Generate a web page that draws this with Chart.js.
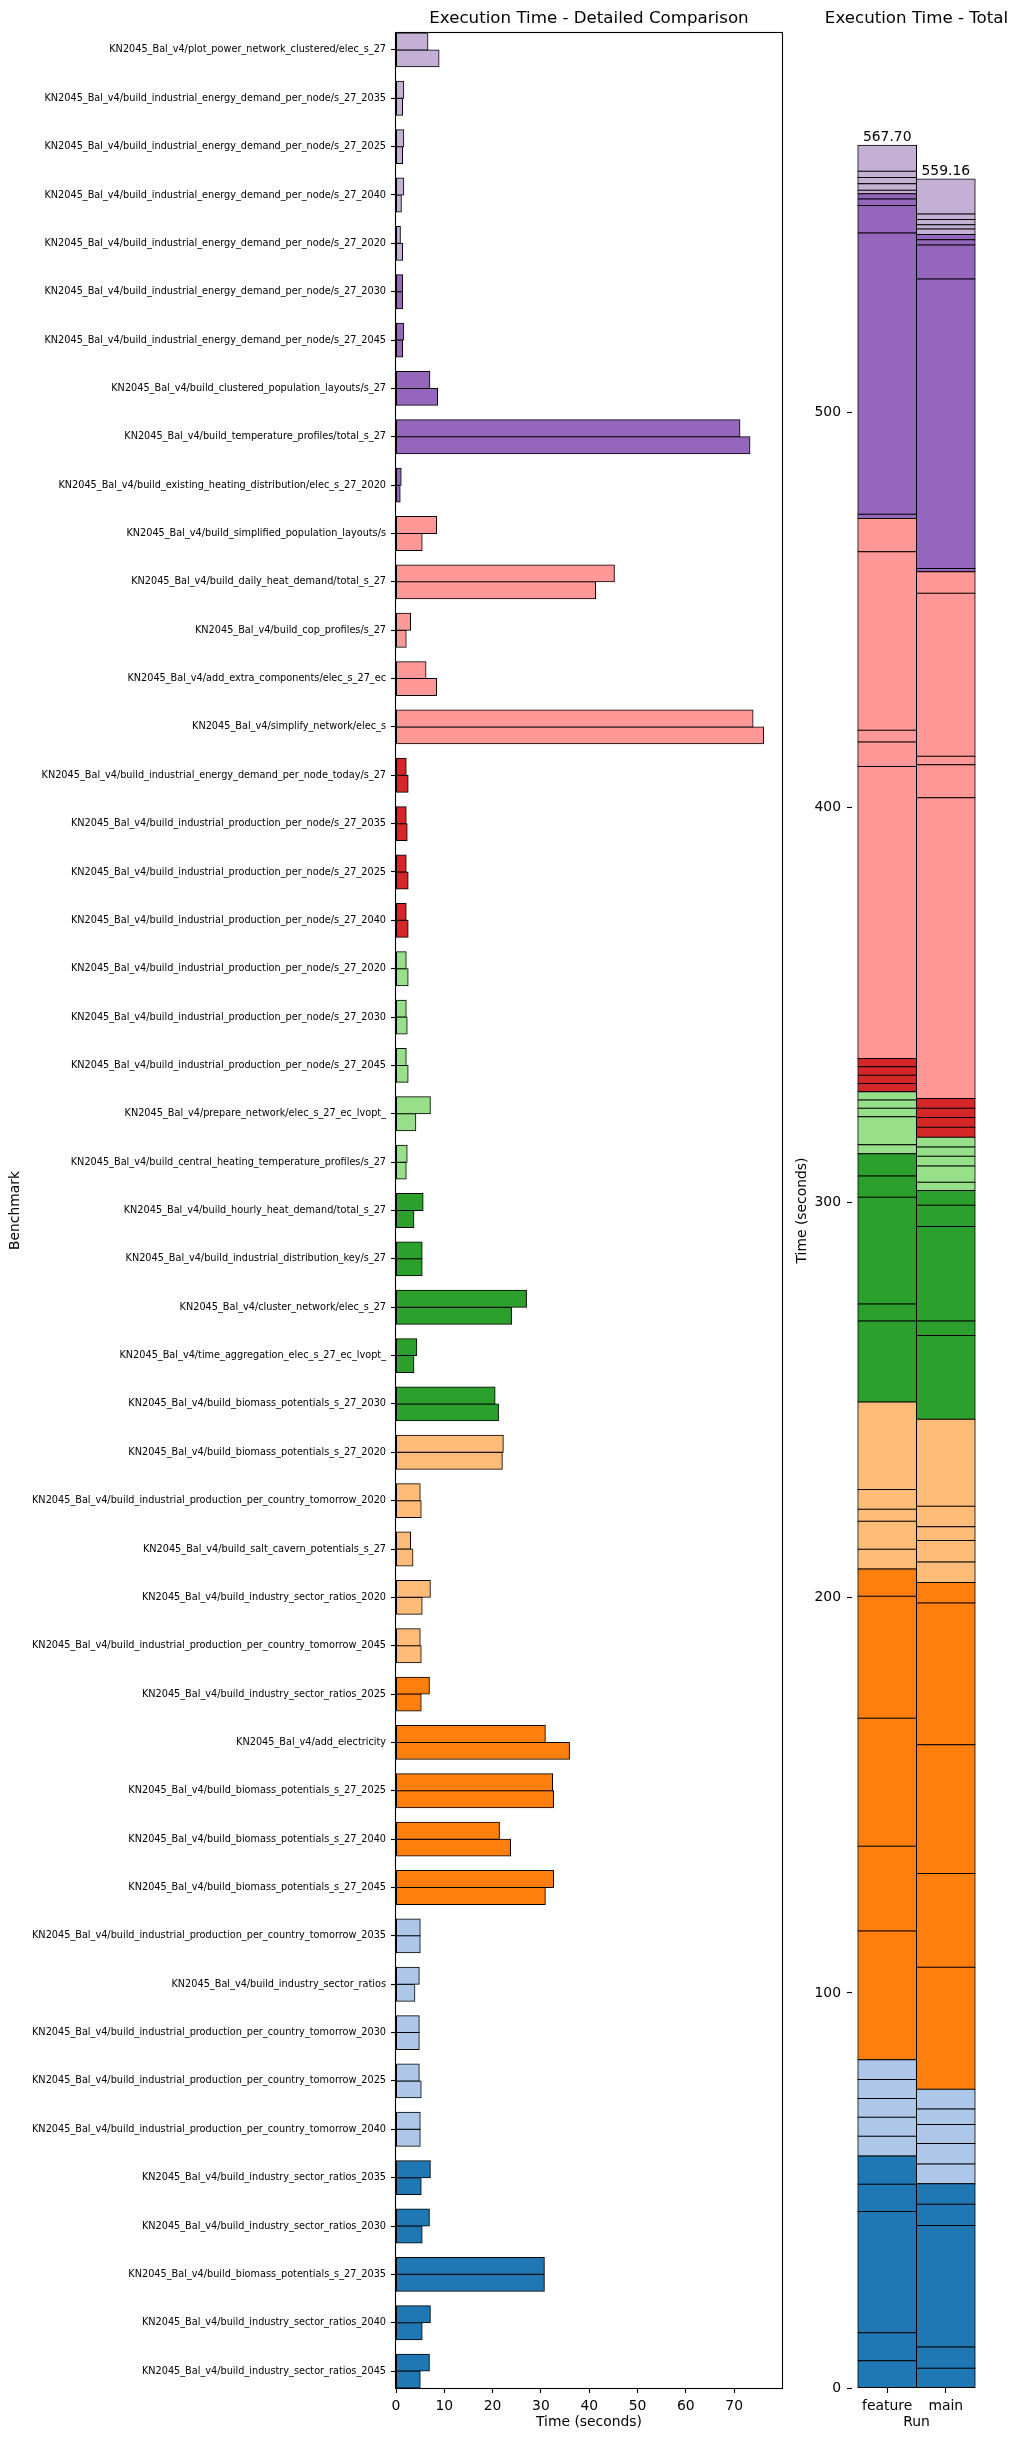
<!DOCTYPE html>
<html>
<head>
<meta charset="utf-8">
<title>Execution Time</title>
<script src="https://cdn.jsdelivr.net/npm/chart.js@4/dist/chart.umd.min.js"></script>
<style>
    html, body { margin: 0; padding: 0; background: #fff; }
    #figure { position: relative; width: 1017px; height: 2440px; overflow: hidden; }
    #detail { position: absolute; left: 0; top: 0; }
    #total { position: absolute; left: 785px; top: 0; }
</style>
</head>
<body>
<div id="figure">
    <canvas id="detail" width="790" height="2440"></canvas>
    <canvas id="total" width="232" height="2440"></canvas>
</div>
<script>

// benchmarks, top to bottom as shown in the detailed comparison
const benchmarks = [
    'KN2045_Bal_v4/plot_power_network_clustered/elec_s_27',
    'KN2045_Bal_v4/build_industrial_energy_demand_per_node/s_27_2035',
    'KN2045_Bal_v4/build_industrial_energy_demand_per_node/s_27_2025',
    'KN2045_Bal_v4/build_industrial_energy_demand_per_node/s_27_2040',
    'KN2045_Bal_v4/build_industrial_energy_demand_per_node/s_27_2020',
    'KN2045_Bal_v4/build_industrial_energy_demand_per_node/s_27_2030',
    'KN2045_Bal_v4/build_industrial_energy_demand_per_node/s_27_2045',
    'KN2045_Bal_v4/build_clustered_population_layouts/s_27',
    'KN2045_Bal_v4/build_temperature_profiles/total_s_27',
    'KN2045_Bal_v4/build_existing_heating_distribution/elec_s_27_2020',
    'KN2045_Bal_v4/build_simplified_population_layouts/s',
    'KN2045_Bal_v4/build_daily_heat_demand/total_s_27',
    'KN2045_Bal_v4/build_cop_profiles/s_27',
    'KN2045_Bal_v4/add_extra_components/elec_s_27_ec',
    'KN2045_Bal_v4/simplify_network/elec_s',
    'KN2045_Bal_v4/build_industrial_energy_demand_per_node_today/s_27',
    'KN2045_Bal_v4/build_industrial_production_per_node/s_27_2035',
    'KN2045_Bal_v4/build_industrial_production_per_node/s_27_2025',
    'KN2045_Bal_v4/build_industrial_production_per_node/s_27_2040',
    'KN2045_Bal_v4/build_industrial_production_per_node/s_27_2020',
    'KN2045_Bal_v4/build_industrial_production_per_node/s_27_2030',
    'KN2045_Bal_v4/build_industrial_production_per_node/s_27_2045',
    'KN2045_Bal_v4/prepare_network/elec_s_27_ec_lvopt_',
    'KN2045_Bal_v4/build_central_heating_temperature_profiles/s_27',
    'KN2045_Bal_v4/build_hourly_heat_demand/total_s_27',
    'KN2045_Bal_v4/build_industrial_distribution_key/s_27',
    'KN2045_Bal_v4/cluster_network/elec_s_27',
    'KN2045_Bal_v4/time_aggregation_elec_s_27_ec_lvopt_',
    'KN2045_Bal_v4/build_biomass_potentials_s_27_2030',
    'KN2045_Bal_v4/build_biomass_potentials_s_27_2020',
    'KN2045_Bal_v4/build_industrial_production_per_country_tomorrow_2020',
    'KN2045_Bal_v4/build_salt_cavern_potentials_s_27',
    'KN2045_Bal_v4/build_industry_sector_ratios_2020',
    'KN2045_Bal_v4/build_industrial_production_per_country_tomorrow_2045',
    'KN2045_Bal_v4/build_industry_sector_ratios_2025',
    'KN2045_Bal_v4/add_electricity',
    'KN2045_Bal_v4/build_biomass_potentials_s_27_2025',
    'KN2045_Bal_v4/build_biomass_potentials_s_27_2040',
    'KN2045_Bal_v4/build_biomass_potentials_s_27_2045',
    'KN2045_Bal_v4/build_industrial_production_per_country_tomorrow_2035',
    'KN2045_Bal_v4/build_industry_sector_ratios',
    'KN2045_Bal_v4/build_industrial_production_per_country_tomorrow_2030',
    'KN2045_Bal_v4/build_industrial_production_per_country_tomorrow_2025',
    'KN2045_Bal_v4/build_industrial_production_per_country_tomorrow_2040',
    'KN2045_Bal_v4/build_industry_sector_ratios_2035',
    'KN2045_Bal_v4/build_industry_sector_ratios_2030',
    'KN2045_Bal_v4/build_biomass_potentials_s_27_2035',
    'KN2045_Bal_v4/build_industry_sector_ratios_2040',
    'KN2045_Bal_v4/build_industry_sector_ratios_2045'
];

// seconds, same order as benchmarks
const featureTimes = [
    6.6, 1.6, 1.6, 1.6, 0.9, 1.35, 1.6, 7.0, 71.19, 1.06,
    8.4, 45.2, 3.0, 6.2, 73.9, 2.1, 2.1, 2.1, 2.1, 2.1,
    2.1, 2.1, 7.1, 2.3, 5.6, 5.4, 27.0, 4.3, 20.5, 22.2,
    5.0, 3.0, 7.1, 5.0, 6.9, 30.9, 32.4, 21.4, 32.6, 5.0,
    4.8, 4.8, 4.8, 5.0, 7.1, 6.9, 30.7, 7.1, 6.9
];
const mainTimes = [
    8.9, 1.35, 1.35, 1.1, 1.35, 1.35, 1.35, 8.6, 73.26, 0.85,
    5.4, 41.3, 2.1, 8.4, 76.1, 2.5, 2.3, 2.5, 2.5, 2.5,
    2.3, 2.5, 4.1, 2.1, 3.7, 5.4, 23.9, 3.7, 21.2, 22.0,
    5.2, 3.5, 5.4, 5.2, 5.2, 35.9, 32.6, 23.7, 30.9, 5.0,
    3.9, 4.8, 5.2, 5.0, 5.2, 5.4, 30.7, 5.4, 5.0
];

const runs = ['feature', 'main'];

const timeTicks = [0, 10, 20, 30, 40, 50, 60, 70];
const totalTicks = [0, 100, 200, 300, 400, 500];

// tab20 colours
const BLUE = '#1f77b4', LBLUE = '#aec7e8', ORANGE = '#ff7f0e', LORANGE = '#ffbb78';
const GREEN = '#2ca02c', LGREEN = '#98df8a', RED = '#d62728', LRED = '#ff9896';
const PURPLE = '#9467bd', LPURPLE = '#c5b0d5';

const benchmarkColors = [
    LPURPLE, LPURPLE, LPURPLE, LPURPLE, LPURPLE,
    PURPLE, PURPLE, PURPLE, PURPLE, PURPLE,
    LRED, LRED, LRED, LRED, LRED,
    RED, RED, RED, RED,
    LGREEN, LGREEN, LGREEN, LGREEN, LGREEN,
    GREEN, GREEN, GREEN, GREEN, GREEN,
    LORANGE, LORANGE, LORANGE, LORANGE, LORANGE,
    ORANGE, ORANGE, ORANGE, ORANGE, ORANGE,
    LBLUE, LBLUE, LBLUE, LBLUE, LBLUE,
    BLUE, BLUE, BLUE, BLUE, BLUE
];

const totals = [featureTimes, mainTimes].map(a => a.reduce((s, v) => s + v, 0));

Chart.defaults.font.family = '"DejaVu Sans", sans-serif';
Chart.defaults.color = '#000';

const FONT_TITLE = 16.67;
const FONT_LABEL = 13.9;
const FONT_SMALL = 9.72;

// title centred over the plot area, like matplotlib's ax.set_title
const panelTitle = {
    id: 'panelTitle',
    afterDraw(chart, args, opts) {
        const {ctx, chartArea} = chart;
        ctx.save();
        ctx.font = FONT_TITLE + 'px "DejaVu Sans"';
        ctx.fillStyle = '#000';
        ctx.textAlign = 'center';
        ctx.textBaseline = 'middle';
        ctx.fillText(opts.text, (chartArea.left + chartArea.right) / 2, opts.y);
        ctx.restore();
    }
};

// box around the plot area
const frame = {
    id: 'frame',
    afterDatasetsDraw(chart) {
        const {ctx, chartArea: a} = chart;
        ctx.save();
        ctx.strokeStyle = '#000';
        ctx.lineWidth = 1.1;
        ctx.strokeRect(a.left - 0.5, a.top - 0.5, a.right - a.left + 1, a.bottom - a.top + 1);
        ctx.restore();
    }
};

// sum printed above each stacked column
const totalLabels = {
    id: 'totalLabels',
    afterDatasetsDraw(chart) {
        const {ctx, scales} = chart;
        ctx.save();
        ctx.font = FONT_LABEL + 'px "DejaVu Sans"';
        ctx.fillStyle = '#000';
        ctx.textAlign = 'center';
        ctx.textBaseline = 'bottom';
        totals.forEach((t, j) => {
            ctx.fillText(t.toFixed(2), scales.x.getPixelForValue(j), scales.y.getPixelForValue(t) - 1);
        });
        ctx.restore();
    }
};

const tickGrid = {
    display: true,
    offset: false,
    drawOnChartArea: false,
    drawTicks: true,
    tickLength: 5,
    tickWidth: 1.1,
    tickColor: '#000'
};

// inflateAmount centres the 1px edge on the bar outline (as matplotlib does)
function barDataset(label, values, colors, extra) {
    return Object.assign({
        label: label,
        data: values,
        backgroundColor: colors,
        borderColor: '#000',
        borderWidth: 1,
        inflateAmount: 0.5,
        borderSkipped: false
    }, extra);
}

// --- detailed comparison (horizontal bars) ---

const detailMax = Math.max(...featureTimes, ...mainTimes) * 1.05;

const detailConfig = {
    type: 'bar',
    data: {
        datasets: [
            barDataset('feature', featureTimes.map((v, i) => ({x: v, y: i})), benchmarkColors,
                {categoryPercentage: 0.7, barPercentage: 1}),
            barDataset('main', mainTimes.map((v, i) => ({x: v, y: i})), benchmarkColors,
                {categoryPercentage: 0.7, barPercentage: 1})
        ]
    },
    options: {
        indexAxis: 'y',
        responsive: false,
        animation: false,
        layout: {padding: {top: 33, right: 8, bottom: 0, left: 0}},
        plugins: {
            legend: {display: false},
            tooltip: {enabled: false},
            panelTitle: {text: 'Execution Time - Detailed Comparison', y: 19}
        },
        scales: {
            x: {
                type: 'linear',
                min: 0,
                max: detailMax,
                border: {display: false},
                grid: tickGrid,
                afterBuildTicks: axis => { axis.ticks = timeTicks.map(v => ({value: v})); },
                ticks: {padding: 5, font: {size: FONT_LABEL}},
                title: {display: true, text: 'Time (seconds)', font: {size: FONT_LABEL}, padding: {top: 0, bottom: 9}},
                afterFit: axis => { axis.height = 52; }
            },
            y: {
                type: 'linear',
                offset: false,
                reverse: true,
                min: -0.35,
                max: benchmarks.length - 0.65,
                border: {display: false},
                grid: tickGrid,
                afterBuildTicks: axis => { axis.ticks = benchmarks.map((_, i) => ({value: i})); },
                ticks: {autoSkip: false, padding: 5, font: {size: FONT_SMALL}, callback: v => benchmarks[v]},
                title: {display: true, text: 'Benchmark', font: {size: FONT_LABEL}, padding: {top: 7, bottom: 0}},
                afterFit: axis => { axis.width = 396; }
            }
        }
    },
    plugins: [panelTitle, frame]
};

new Chart(document.getElementById('detail'), detailConfig);

// --- totals (stacked columns), first benchmark ends up on top ---

const totalDatasets = benchmarks.map((name, i) => barDataset(name,
    [{x: 0, y: featureTimes[i]}, {x: 1, y: mainTimes[i]}], benchmarkColors[i],
    {categoryPercentage: 1, barPercentage: 1})).reverse();

const totalConfig = {
    type: 'bar',
    data: {datasets: totalDatasets},
    options: {
        responsive: false,
        animation: false,
        layout: {padding: {top: 33, right: 36, bottom: 0, left: 0}},
        plugins: {
            legend: {display: false},
            tooltip: {enabled: false},
            panelTitle: {text: 'Execution Time - Total', y: 19}
        },
        scales: {
            x: {
                type: 'linear',
                offset: false,
                stacked: true,
                min: -0.6,
                max: runs.length - 0.4,
                border: {display: false},
                grid: tickGrid,
                afterBuildTicks: axis => { axis.ticks = runs.map((_, i) => ({value: i})); },
                ticks: {padding: 5, font: {size: FONT_LABEL}, callback: v => runs[v]},
                title: {display: true, text: 'Run', font: {size: FONT_LABEL}, padding: {top: 0, bottom: 9}},
                afterFit: axis => { axis.height = 52; }
            },
            y: {
                type: 'linear',
                stacked: true,
                min: 0,
                max: Math.max(...totals) * 1.05,
                border: {display: false},
                grid: tickGrid,
                afterBuildTicks: axis => { axis.ticks = totalTicks.map(v => ({value: v})); },
                ticks: {padding: 6, font: {size: FONT_LABEL}},
                title: {display: true, text: 'Time (seconds)', font: {size: FONT_LABEL}, padding: {top: 9, bottom: 0}},
                afterFit: axis => { axis.width = 67; }
            }
        }
    },
    plugins: [panelTitle, totalLabels]
};

new Chart(document.getElementById('total'), totalConfig);
</script>
</body>
</html>
